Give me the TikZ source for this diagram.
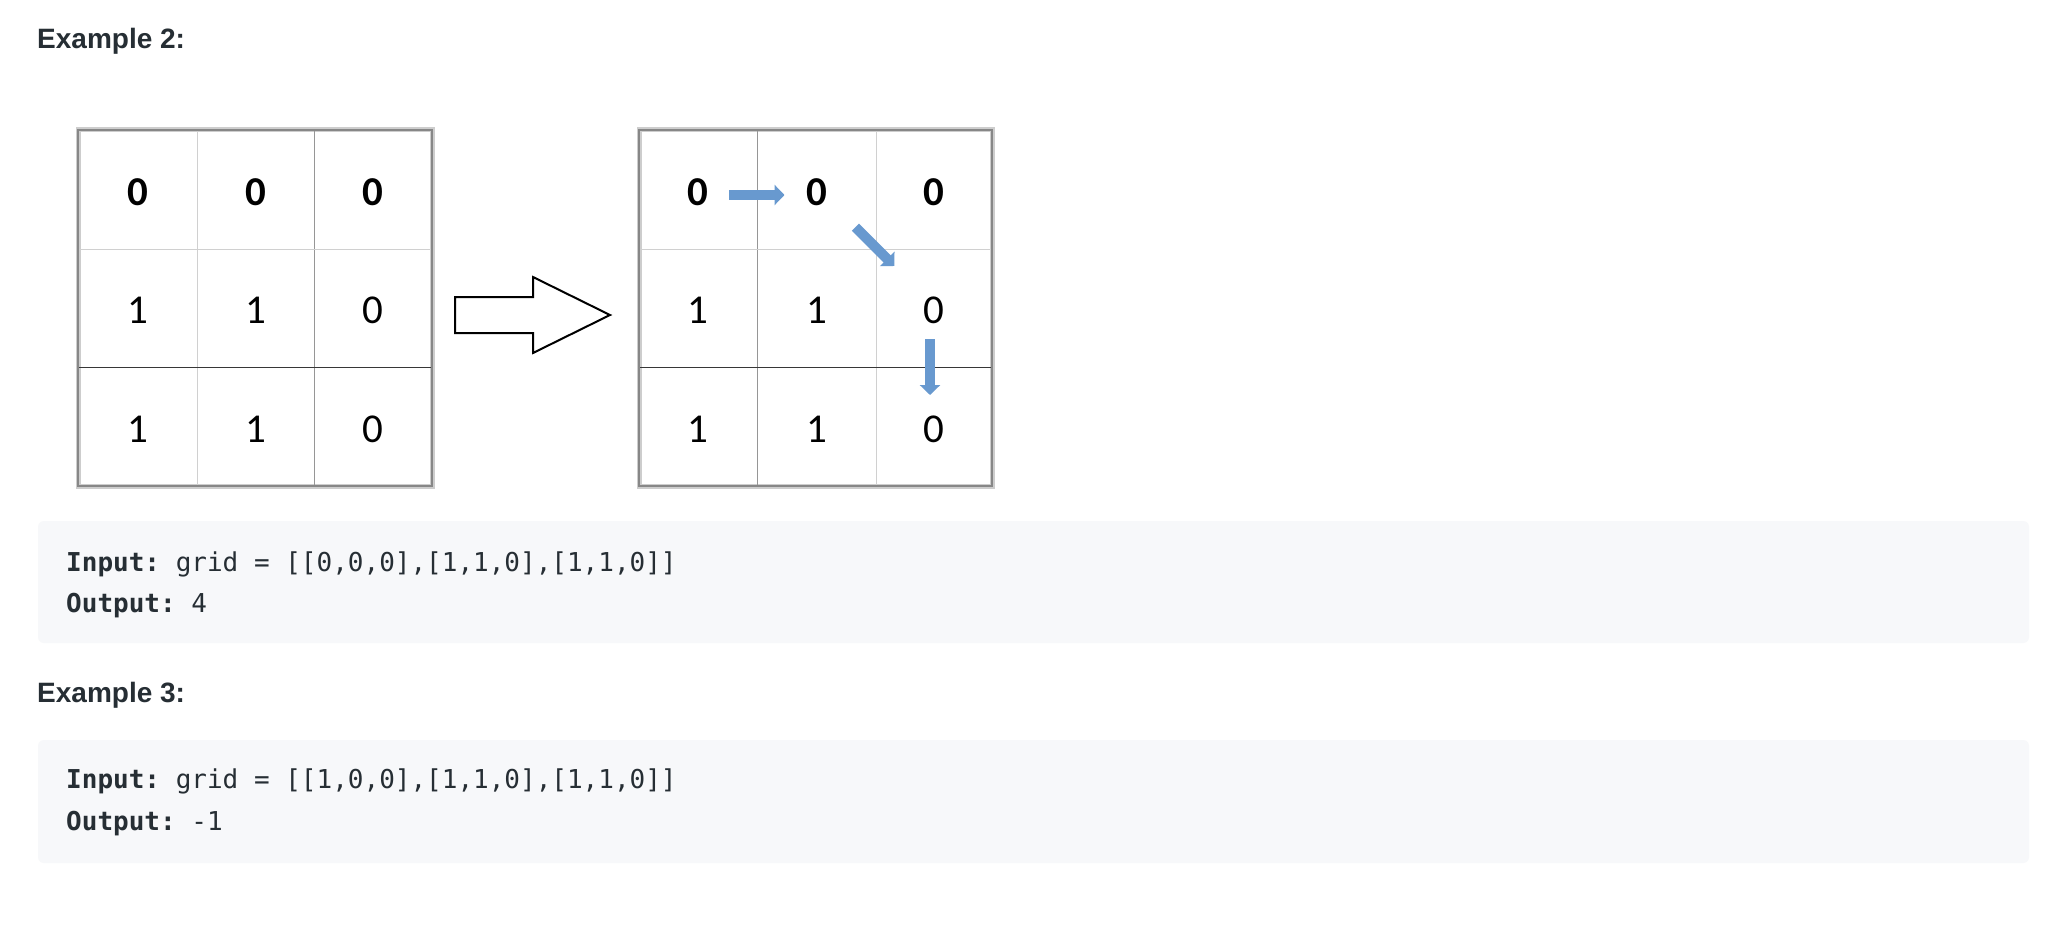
\documentclass[tikz,border=0pt]{standalone}
\usepackage{fontspec}
\setmainfont{Liberation Sans}
\setmonofont{DejaVu Sans Mono}
\newfontfamily\cellfont{Carlito}
\usetikzlibrary{arrows.meta}
\definecolor{txt}{RGB}{38,46,52}
\definecolor{codebg}{RGB}{247,248,250}
\definecolor{flow}{RGB}{104,153,207}
\definecolor{lightline}{RGB}{208,208,208}
\definecolor{midline}{RGB}{150,150,150}
\definecolor{darkline}{RGB}{55,55,55}
\definecolor{frameline}{RGB}{135,135,135}
\definecolor{framehalo}{RGB}{205,205,205}
\tikzset{
  heading/.style={anchor=base west, inner sep=0pt, text=txt, font=\fontsize{28}{32}\selectfont\bfseries},
  codeline/.style={anchor=base west, inner sep=0pt, text=txt, font=\fontsize{26}{30}\selectfont\ttfamily},
  codebox/.style={fill=codebg, draw=none, rounded corners=6pt},
  cell/.style={inner sep=0pt, text=black, font=\fontsize{41}{44}\selectfont\cellfont},
  celltop/.style={cell, font=\fontsize{41}{44}\selectfont\cellfont\bfseries},
  gridframe/.style={draw=frameline, line width=2pt},
  gridhalo/.style={draw=framehalo, line width=5pt},
  flowarrow/.style={draw=flow, line width=10pt, -{Triangle[length=10pt,width=20pt]}},
  bigarrow/.style={draw=black, line width=2pt, fill=white, line join=miter}
}
\begin{document}
\begin{tikzpicture}[x=1pt,y=-1pt]
\useasboundingbox (0,0) rectangle (2050,928);
\fill[white] (0,0) rectangle (2050,928);

% headings
\node[heading] (h2) at (37,49) {Example 2:};
\node[heading] (h3) at (37,702) {Example 3:};

% ---------- left grid ----------
\draw[gridhalo] (78,130) rectangle (432,486);
\draw[lightline, line width=1pt] (197,130) -- (197,486);
\draw[midline, line width=1pt] (314,130) -- (314,486);
\draw[lightline, line width=1pt] (78,249) -- (432,249);
\draw[darkline, line width=1pt] (78,367) -- (432,367);
\draw[gridframe] (78,130) rectangle (432,486);

\node[celltop] (L11) at (137.5,192.5) {0};
\node[celltop] (L12) at (255.5,192.5) {0};
\node[celltop] (L13) at (373,192.5) {0};
\node[cell] (L21) at (137.5,310) {1};
\node[cell] (L22) at (255.5,310) {1};
\node[cell] (L23) at (373,310) {0};
\node[cell] (L31) at (137.5,429) {1};
\node[cell] (L32) at (255.5,429) {1};
\node[cell] (L33) at (373,429) {0};

% ---------- big hollow arrow ----------
\draw[bigarrow] (455,297) -- (533,297) -- (533,277) -- (610,315) -- (533,353) -- (533,333) -- (455,333) -- cycle;

% ---------- right grid ----------
\draw[gridhalo] (639,130) rectangle (992,486);
\draw[midline, line width=1pt] (757,130) -- (757,486);
\draw[lightline, line width=1pt] (876,130) -- (876,486);
\draw[lightline, line width=1pt] (639,249) -- (992,249);
\draw[darkline, line width=1pt] (639,367) -- (992,367);
\draw[gridframe] (639,130) rectangle (992,486);

\node[celltop] (R11) at (698,192.5) {0};
\node[celltop] (R12) at (816.5,192.5) {0};
\node[celltop] (R13) at (934,192.5) {0};
\node[cell] (R21) at (698,310) {1};
\node[cell] (R22) at (816.5,310) {1};
\node[cell] (R23) at (934,310) {0};
\node[cell] (R31) at (698,429) {1};
\node[cell] (R32) at (816.5,429) {1};
\node[cell] (R33) at (934,429) {0};

% ---------- blue path arrows ----------
\coordinate (a1s) at (729,195);
\coordinate (a1e) at (784.5,195);
\coordinate (a2s) at (855.4,227.1);
\coordinate (a2e) at (894.3,266);
\coordinate (a3s) at (930,339);
\coordinate (a3e) at (930,395);
\draw[flowarrow] (a1s) -- (a1e);
\draw[flowarrow] (a2s) -- (a2e);
\draw[flowarrow] (a3s) -- (a3e);

% ---------- code boxes ----------
\path[codebox] (38,521) rectangle (2029,643);
\node[codeline] (in2) at (66,571) {\textbf{Input:} grid = [[0,0,0],[1,1,0],[1,1,0]]};
\node[codeline] (out2) at (66,612) {\textbf{Output:} 4};

\path[codebox] (38,740) rectangle (2029,863);
\node[codeline] (in3) at (66,788) {\textbf{Input:} grid = [[1,0,0],[1,1,0],[1,1,0]]};
\node[codeline] (out3) at (66,830) {\textbf{Output:} -1};
\end{tikzpicture}
\end{document}
